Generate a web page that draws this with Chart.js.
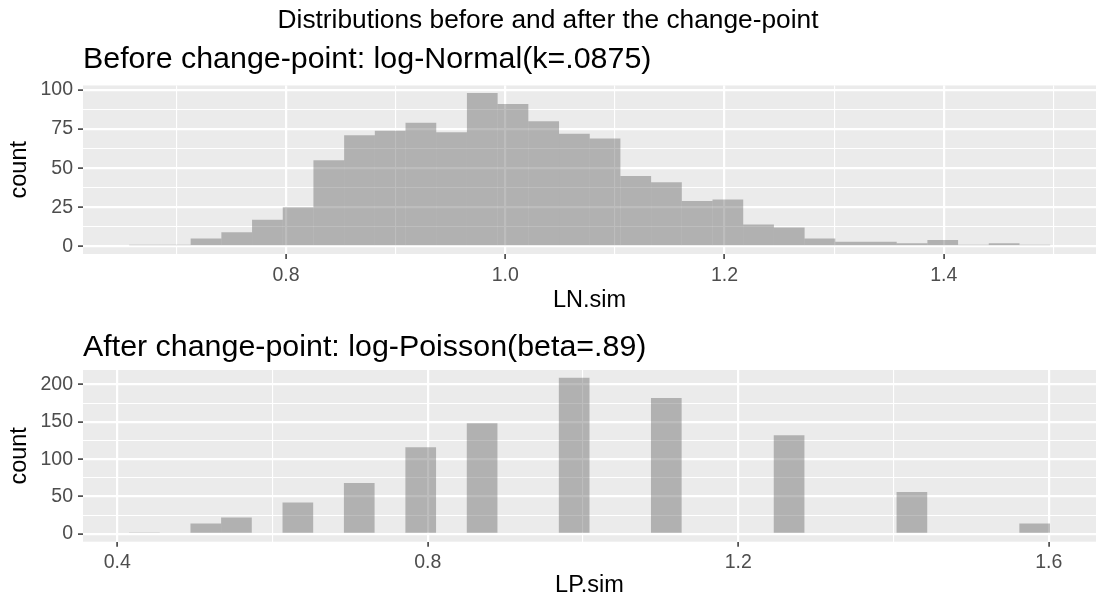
<!DOCTYPE html>
<html>
<head>
<meta charset="utf-8">
<script src="https://cdn.jsdelivr.net/npm/chart.js@4.4.1/dist/chart.umd.min.js"></script>
<style>
  body { margin: 0; background: #fff; }
  canvas { display: block; }
</style>
</head>
<body>
<canvas id="lnChart" width="1097" height="318"></canvas>
<canvas id="lpChart" width="1097" height="281"></canvas>
<script>
const FONT = '"Liberation Sans", Arial, sans-serif';

// LN.sim histogram, 30 bins
const lnBinMids = [0.671, 0.699, 0.727, 0.755, 0.783, 0.811, 0.839, 0.867, 0.895, 0.923,
                   0.951, 0.979, 1.007, 1.035, 1.063, 1.091, 1.119, 1.147, 1.175, 1.203,
                   1.231, 1.259, 1.287, 1.315, 1.343, 1.371, 1.399, 1.427, 1.455, 1.483];
const lnCounts = [1, 1, 5, 9, 17, 25, 55, 71, 74, 79,
                  73, 98, 91, 80, 72, 69, 45, 41, 29, 30,
                  14, 12, 5, 3, 3, 2, 4, 1, 2, 1];
const lnXLimits = [0.6148, 1.5388];

// LP.sim histogram, non-empty bins only
const lpBinMids = [0.4349, 0.5140, 0.5535, 0.6326, 0.7117, 0.7909,
                   0.8700, 0.9886, 1.1073, 1.2655, 1.4237, 1.5819];
const lpCounts = [2, 14, 22, 42, 68, 116, 148, 209, 182, 132, 56, 14];
const lpXLimits = [0.3558, 1.6609];

const panelBackground = {
    id: "panelBackground",
    beforeDraw(chart) {
        const { ctx, chartArea: a } = chart;
        ctx.save();
        ctx.fillStyle = "#EBEBEB";
        ctx.fillRect(a.left, a.top, a.right - a.left, a.bottom - a.top);
        ctx.restore();
    }
};

function gridFor(isMajor) {
    const major = ctx => ctx.tick && isMajor(ctx.tick.value);
    return {
        offset: false,
        color: "#FFFFFF",
        lineWidth: ctx => major(ctx) ? 2.2 : 1.1,
        tickLength: 5,
        tickWidth: 1.5,
        tickColor: ctx => major(ctx) ? "#333333" : "rgba(0,0,0,0)"
    };
}

function makeHistogram(canvasId, mids, counts, cfg) {
    const yTop = Math.max(...counts) * 1.05;
    const yBottom = -Math.max(...counts) * 0.05;

    return new Chart(document.getElementById(canvasId), {
        type: "bar",
        data: {
            datasets: [{
                data: mids.map((x, i) => ({ x: x, y: counts[i] })),
                backgroundColor: "rgba(89,89,89,0.4)",
                borderWidth: 0,
                inflateAmount: 0,
                barPercentage: 1,
                categoryPercentage: 1
            }]
        },
        options: {
            responsive: false,
            animation: false,
            layout: { padding: { left: 0, right: 1, top: 0, bottom: 0 } },
            plugins: {
                legend: { display: false },
                tooltip: { enabled: false },
                title: cfg.title,
                subtitle: cfg.subtitle || { display: false }
            },
            scales: {
                x: {
                    type: "linear",
                    offset: false,
                    min: cfg.xLimits[0],
                    max: cfg.xLimits[1],
                    afterFit(scale) { scale.height = cfg.xAxisHeight; },
                    border: { display: false },
                    grid: gridFor(cfg.xMajor),
                    ticks: {
                        stepSize: cfg.xStep,
                        autoSkip: false,
                        includeBounds: false,
                        maxRotation: 0,
                        padding: 4.5,
                        color: "#4D4D4D",
                        font: { family: FONT, size: 19.5 },
                        callback: v => cfg.xMajor(v) ? Number(v).toFixed(1) : ""
                    },
                    title: {
                        display: true,
                        text: cfg.xTitle,
                        color: "#000000",
                        font: { family: FONT, size: 23.5, lineHeight: 1 },
                        padding: { top: 0, bottom: cfg.xTitlePad }
                    }
                },
                y: {
                    type: "linear",
                    min: yBottom,
                    max: yTop,
                    afterFit(scale) { scale.width = 83; },
                    border: { display: false },
                    grid: gridFor(cfg.yMajor),
                    ticks: {
                        stepSize: cfg.yStep,
                        autoSkip: false,
                        includeBounds: false,
                        padding: 5,
                        color: "#4D4D4D",
                        font: { family: FONT, size: 19.5 },
                        callback: v => cfg.yMajor(v) ? String(v) : ""
                    },
                    title: {
                        display: true,
                        text: "count",
                        color: "#000000",
                        font: { family: FONT, size: 23.5, lineHeight: 1 },
                        padding: { top: 8.25, bottom: 0 }
                    }
                }
            }
        },
        plugins: [panelBackground]
    });
}

makeHistogram("lnChart", lnBinMids, lnCounts, {
    xLimits: lnXLimits,
    xStep: 0.1,
    xMajor: v => Math.round(v * 10) % 2 === 0,
    yStep: 12.5,
    yMajor: v => v % 25 === 0,
    xTitle: "LN.sim",
    xAxisHeight: 64,
    xTitlePad: 5.5,
    title: {
        display: true,
        text: "Distributions before and after the change-point",
        color: "#000000",
        font: { family: FONT, size: 26.3, weight: "normal", lineHeight: 1.2 },
        padding: { top: 5, bottom: 0 }
    },
    subtitle: {
        display: true,
        text: "Before change-point: log-Normal(k=.0875)",
        align: "start",
        fullSize: false,
        color: "#000000",
        font: { family: FONT, size: 30.4, weight: "normal", lineHeight: 1.2 },
        padding: { top: 4.4, bottom: 8 }
    }
});

makeHistogram("lpChart", lpBinMids, lpCounts, {
    xLimits: lpXLimits,
    xStep: 0.2,
    xMajor: v => Math.round(v * 10) % 4 === 0,
    yStep: 25,
    yMajor: v => v % 50 === 0,
    xTitle: "LP.sim",
    xAxisHeight: 57.3,
    xTitlePad: 1.5,
    title: {
        display: true,
        text: "After change-point: log-Poisson(beta=.89)",
        align: "start",
        fullSize: false,
        color: "#000000",
        font: { family: FONT, size: 30.4, weight: "normal", lineHeight: 1.2 },
        padding: { top: 11.6, bottom: 3.9 }
    }
});
</script>
</body>
</html>
